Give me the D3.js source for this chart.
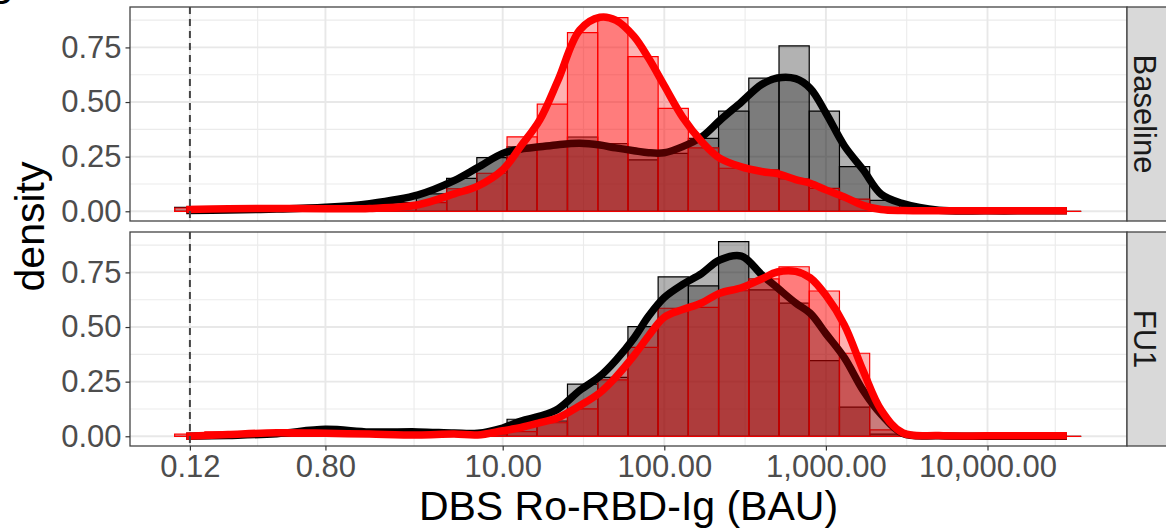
<!DOCTYPE html>
<html>
<head>
<meta charset="utf-8">
<script src="https://cdn.jsdelivr.net/npm/d3@7"></script>
<style>
body { margin: 0; background: #fff; }
text { font-family: "Liberation Sans", Arial, sans-serif; }
</style>
</head>
<body>
<svg id="chart" width="1166" height="529"></svg>
<script>
// ---- data ----
var facets = ["Baseline", "FU1"];
var groups = ["black", "red"];

var xTicks = [0.116, 0.8, 10, 100, 1000, 10000];
var xTickLabels = ["0.12", "0.80", "10.00", "100.00", "1,000.00", "10,000.00"];
var yTicks = [0, 0.25, 0.5, 0.75];
var yTickLabels = ["0.00", "0.25", "0.50", "0.75"];
var lodLine = 0.116;
var xDomain = [0.0494, 72980];
var yDomain = [-0.0445, 0.935];

// histogram: 30 bins spanning the data range (log10 scale)
var binRange = [0.0933, 38000];
var nBins = 30;
var histBaselineBlack = [0.018, 0, 0.01, 0, 0.01, 0.02, 0.02, 0.04, 0.08, 0.151, 0.246, 0.295, 0.30, 0.34, 0.31, 0.235, 0.265, 0.334, 0.458, 0.609, 0.757, 0.458, 0.204, 0.05, 0, 0, 0, 0, 0, 0];
var histBaselineRed   = [0.015, 0.01, 0.018, 0.01, 0.01, 0.01, 0.018, 0.02, 0.04, 0.103, 0.174, 0.341, 0.49, 0.818, 0.886, 0.708, 0.471, 0.29, 0.197, 0.19, 0.148, 0.105, 0.056, 0.005, 0, 0, 0, 0, 0, 0];
var histFU1Black      = [0, 0, 0.01, 0.02, 0.03, 0.02, 0.01, 0.02, 0.01, 0.005, 0.02, 0.078, 0.07, 0.239, 0.27, 0.502, 0.73, 0.688, 0.891, 0.67, 0.609, 0.346, 0.133, 0.01, 0, 0, 0, 0, 0, 0];
var histFU1Red        = [0.01, 0.02, 0.02, 0.01, 0.02, 0.02, 0.01, 0.01, 0.01, 0.01, 0.01, 0.021, 0.062, 0.125, 0.258, 0.407, 0.586, 0.59, 0.666, 0.72, 0.776, 0.665, 0.38, 0.029, 0, 0, 0, 0, 0, 0];

// density curves sampled at these BAU values
var densX = [0.11, 0.2, 0.4, 0.8, 1.5, 3, 5, 7, 10, 13, 17, 22, 30, 40, 50, 65, 80, 100, 130, 170, 220, 300, 400, 500, 650, 800, 1000, 1300, 1700, 2200, 3000, 5000, 10000, 20000, 31000];
var densBaselineBlack = [0.003, 0.006, 0.01, 0.018, 0.035, 0.075, 0.14, 0.20, 0.265, 0.285, 0.295, 0.305, 0.311, 0.303, 0.29, 0.277, 0.268, 0.268, 0.296, 0.34, 0.415, 0.50, 0.58, 0.61, 0.607, 0.563, 0.45, 0.30, 0.19, 0.078, 0.035, 0.005, 0.002, 0.002, 0.002];
var densBaselineRed   = [0.008, 0.012, 0.013, 0.012, 0.013, 0.03, 0.08, 0.115, 0.19, 0.30, 0.42, 0.60, 0.83, 0.888, 0.875, 0.80, 0.70, 0.575, 0.43, 0.32, 0.243, 0.203, 0.182, 0.172, 0.145, 0.128, 0.098, 0.065, 0.027, 0.008, 0.003, 0.002, 0.002, 0.002, 0.002];
var densFU1Black      = [0, 0.004, 0.012, 0.032, 0.02, 0.02, 0.015, 0.014, 0.038, 0.07, 0.092, 0.125, 0.21, 0.275, 0.347, 0.45, 0.55, 0.635, 0.695, 0.745, 0.807, 0.825, 0.74, 0.68, 0.61, 0.563, 0.47, 0.36, 0.21, 0.10, 0.012, 0.002, 0, 0, 0];
var densFU1Red        = [0, 0.008, 0.016, 0.014, 0.01, 0.006, 0.01, 0.006, 0.025, 0.04, 0.062, 0.085, 0.14, 0.2, 0.27, 0.37, 0.46, 0.545, 0.58, 0.61, 0.655, 0.68, 0.72, 0.752, 0.755, 0.725, 0.645, 0.51, 0.30, 0.12, 0.015, 0.003, 0.002, 0.002, 0.002];

var hist = {
  Baseline: { black: histBaselineBlack, red: histBaselineRed },
  FU1: { black: histFU1Black, red: histFU1Red }
};
var dens = {
  Baseline: { black: densBaselineBlack, red: densBaselineRed },
  FU1: { black: densFU1Black, red: densFU1Red }
};
var colour = { black: "#000000", red: "#ff0000" };

// ---- layout ----
var panelX = [130, 1127];
var panelY = [[7, 221], [232, 446]];
var stripW = 45;

var svg = d3.select("#chart");

var x = d3.scaleLog().domain(xDomain).range(panelX);

// ggplot style minor breaks (midpoints, extended by the first gap)
function minorBreaks(b, lim) {
  var bd = b[1] - b[0];
  b = b.slice();
  if (lim[0] < b[0]) b.unshift(b[0] - bd);
  if (lim[1] > b[b.length - 1]) b.push(b[b.length - 1] + bd);
  var m = [];
  for (var i = 0; i < b.length - 1; i++) m.push((b[i] + b[i + 1]) / 2);
  return m.filter(function(v) { return v > lim[0] && v < lim[1]; });
}
var xMinor = minorBreaks(xTicks.map(Math.log10), xDomain.map(Math.log10)).map(function(v) { return Math.pow(10, v); });
var yMinor = minorBreaks(yTicks, yDomain);

var l0 = Math.log10(binRange[0]), l1 = Math.log10(binRange[1]);
var edges = d3.range(nBins + 1).map(function(i) { return Math.pow(10, l0 + i * (l1 - l0) / nBins); });

// panel tag, mostly cut off at the top
svg.append("text").attr("x", -14).attr("y", 4).style("font-size", "40px").text("B");

facets.forEach(function(f, fi) {
  var y = d3.scaleLinear().domain(yDomain).range([panelY[fi][1], panelY[fi][0]]);
  var g = svg.append("g");

  g.append("rect")
    .attr("x", panelX[0]).attr("y", panelY[fi][0])
    .attr("width", panelX[1] - panelX[0]).attr("height", panelY[fi][1] - panelY[fi][0])
    .attr("fill", "#fff");

  // grid
  g.selectAll(".ymin").data(yMinor).enter().append("line")
    .attr("x1", panelX[0]).attr("x2", panelX[1])
    .attr("y1", function(d) { return y(d); }).attr("y2", function(d) { return y(d); })
    .attr("stroke", "#ebebeb").attr("stroke-width", 1.1);
  g.selectAll(".xmin").data(xMinor).enter().append("line")
    .attr("x1", function(d) { return x(d); }).attr("x2", function(d) { return x(d); })
    .attr("y1", panelY[fi][0]).attr("y2", panelY[fi][1])
    .attr("stroke", "#ebebeb").attr("stroke-width", 1.1);
  g.selectAll(".ymaj").data(yTicks).enter().append("line")
    .attr("x1", panelX[0]).attr("x2", panelX[1])
    .attr("y1", function(d) { return y(d); }).attr("y2", function(d) { return y(d); })
    .attr("stroke", "#e8e8e8").attr("stroke-width", 1.9);
  g.selectAll(".xmaj").data(xTicks).enter().append("line")
    .attr("x1", function(d) { return x(d); }).attr("x2", function(d) { return x(d); })
    .attr("y1", panelY[fi][0]).attr("y2", panelY[fi][1])
    .attr("stroke", "#e8e8e8").attr("stroke-width", 1.9);

  // histograms (paths so that empty bins still show their outline)
  groups.forEach(function(gr) {
    g.selectAll(".bar-" + gr).data(hist[f][gr]).enter().append("path")
      .attr("d", function(v, i) {
        var xa = x(edges[i]), xb = x(edges[i + 1]), y0 = y(0), y1 = y(v);
        return "M" + xa + "," + y0 + "V" + y1 + "H" + xb + "V" + y0 + "Z";
      })
      .attr("fill", colour[gr]).attr("fill-opacity", 0.3)
      .attr("stroke", colour[gr]).attr("stroke-width", 1.2);
  });

  // densities: fill then thick line, group by group
  groups.forEach(function(gr) {
    var pts = densX.map(function(d, i) { return [d, dens[f][gr][i]]; });
    var area = d3.area().x(function(d) { return x(d[0]); }).y0(y(0)).y1(function(d) { return y(d[1]); })
      .curve(d3.curveCatmullRom.alpha(0.5));
    var line = d3.line().x(function(d) { return x(d[0]); }).y(function(d) { return y(d[1]); })
      .curve(d3.curveCatmullRom.alpha(0.5));
    g.append("path").datum(pts).attr("d", area)
      .attr("fill", colour[gr]).attr("fill-opacity", 0.3);
    g.append("path").datum(pts).attr("d", line)
      .attr("fill", "none").attr("stroke", colour[gr]).attr("stroke-width", 7.5)
      .attr("stroke-linejoin", "round");
  });

  // detection limit
  g.append("line")
    .attr("x1", x(lodLine)).attr("x2", x(lodLine))
    .attr("y1", panelY[fi][0]).attr("y2", panelY[fi][1])
    .attr("stroke", "#444").attr("stroke-width", 2).attr("stroke-dasharray", "7,5");

  g.append("rect")
    .attr("x", panelX[0]).attr("y", panelY[fi][0])
    .attr("width", panelX[1] - panelX[0]).attr("height", panelY[fi][1] - panelY[fi][0])
    .attr("fill", "none").attr("stroke", "#444").attr("stroke-width", 1.3);

  // strip
  g.append("rect")
    .attr("x", panelX[1]).attr("y", panelY[fi][0])
    .attr("width", stripW).attr("height", panelY[fi][1] - panelY[fi][0])
    .attr("fill", "#d9d9d9").attr("stroke", "#444").attr("stroke-width", 1.3);
  g.append("text")
    .attr("transform", "translate(" + (panelX[1] + 18) + "," + ((panelY[fi][0] + panelY[fi][1]) / 2) + ") rotate(90)")
    .attr("text-anchor", "middle").attr("dy", "0.35em")
    .style("font-size", "31px").style("fill", "#1a1a1a")
    .text(f);

  // y axis
  var ya = g.append("g").attr("transform", "translate(" + panelX[0] + ",0)")
    .call(d3.axisLeft(y).tickValues(yTicks).tickFormat(function(d, i) { return yTickLabels[i]; })
      .tickSize(4.5).tickPadding(4));
  ya.select(".domain").remove();
  ya.selectAll("line").attr("stroke", "#333").attr("stroke-width", 1.2);
  ya.selectAll("text").style("font-size", "31px").style("fill", "#4d4d4d").style("font-family", "Liberation Sans, Arial, sans-serif");

  if (fi === facets.length - 1) {
    var xa = g.append("g").attr("transform", "translate(0," + panelY[fi][1] + ")")
      .call(d3.axisBottom(x).tickValues(xTicks).tickFormat(function(d, i) { return xTickLabels[i]; })
        .tickSize(4.5).tickPadding(4));
    xa.select(".domain").remove();
    xa.selectAll("line").attr("stroke", "#333").attr("stroke-width", 1.2);
    xa.selectAll("text").style("font-size", "31px").style("fill", "#4d4d4d").style("font-family", "Liberation Sans, Arial, sans-serif");
  }
});

// axis titles
svg.append("text")
  .attr("x", (panelX[0] + panelX[1]) / 2).attr("y", 520)
  .attr("text-anchor", "middle").style("font-size", "41px")
  .text("DBS Ro-RBD-Ig (BAU)");
svg.append("text")
  .attr("transform", "translate(44," + ((panelY[0][0] + panelY[1][1]) / 2) + ") rotate(-90)")
  .attr("text-anchor", "middle").style("font-size", "41px")
  .text("density");
</script>
</body>
</html>
